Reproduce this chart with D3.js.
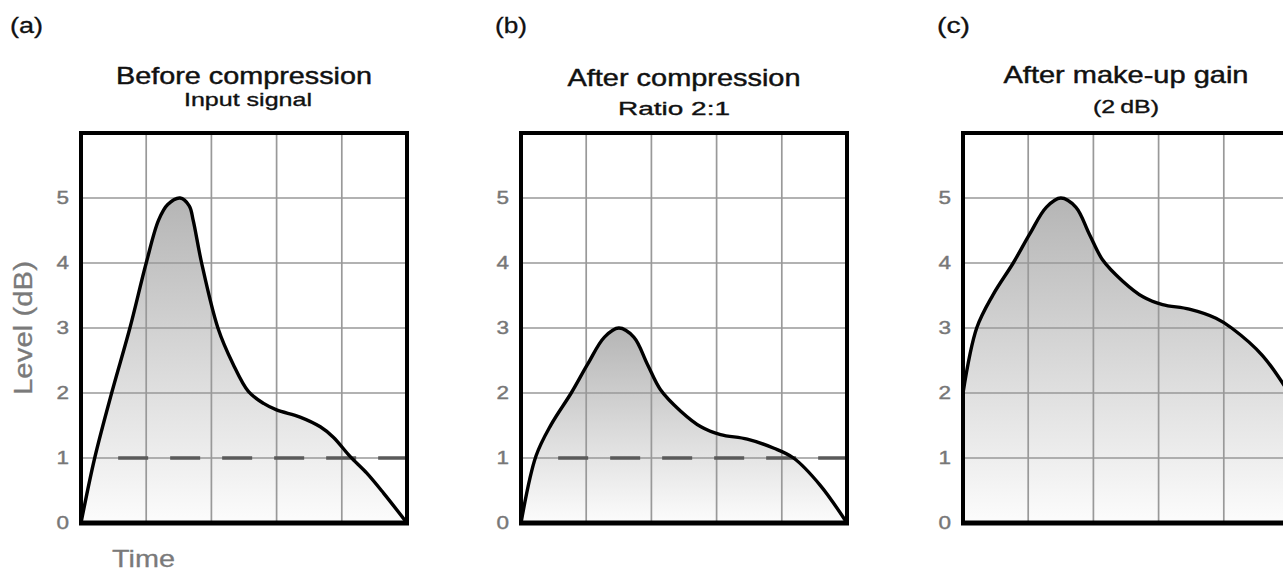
<!DOCTYPE html>
<html>
<head>
<meta charset="utf-8">
<script src="https://cdn.jsdelivr.net/npm/d3@7"></script>
<style>
  html, body { margin: 0; padding: 0; background: #ffffff; }
  svg { display: block; }
  text { font-family: "Liberation Sans", Arial, Helvetica, sans-serif; }
</style>
</head>
<body>
<svg id="chart" width="1283" height="572"></svg>
<script>
// ---------------- data ----------------
const panelLabels = ["(a)", "(b)", "(c)"];
const titles = ["Before compression", "After compression", "After make-up gain"];
const subtitles = ["Input signal", "Ratio 2:1", "(2\u2009dB)"];
const levelTicks = [0, 1, 2, 3, 4, 5];
const timeGrid = [1, 2, 3, 4];
const levelGrid = [1, 2, 3, 4, 5];
const thresholdLevel = 1;
const thresholdFrom = 0.57;

// (a) input signal
const timeA  = [0, 0.21, 0.47, 0.75, 1.0, 1.19, 1.33, 1.52, 1.66, 1.72, 1.85, 2.1, 2.33, 2.57, 2.8, 3.0, 3.36, 3.67, 3.87, 4.13, 4.38, 4.64, 5];
const levelA = [0, 1, 2, 3, 4, 4.66, 4.9, 5, 4.88, 4.66, 4, 3, 2.45, 2.02, 1.84, 1.74, 1.63, 1.48, 1.32, 1.02, 0.77, 0.46, 0];

// (b) after compression 2:1
const timeB  = [0, 0.23, 0.46, 0.77, 1.02, 1.28, 1.5, 1.73, 1.94, 2.14, 2.45, 2.76, 3.06, 3.47, 3.88, 4.18, 4.59, 5];
const levelB = [0, 1.03, 1.51, 2, 2.44, 2.86, 3, 2.86, 2.44, 2.05, 1.72, 1.48, 1.36, 1.29, 1.15, 1.0, 0.58, 0];

// (c) after 2 dB make-up gain
const timeC  = [0, 0.21, 0.46, 0.77, 1.02, 1.28, 1.5, 1.73, 1.94, 2.14, 2.45, 2.76, 3.06, 3.47, 3.88, 4.12, 4.59, 5];
const levelC = [2, 3.0, 3.51, 4, 4.44, 4.86, 5, 4.86, 4.44, 4.05, 3.72, 3.48, 3.36, 3.29, 3.15, 3.0, 2.58, 2];

// ---------------- layout ----------------
const panelLeft = [81, 521, 963];
const plotW = 326;
const plotTop = 133, plotBottom = 523;
const titleY = [84, 86, 83], subY = [106, 115, 113];
const titleLen = [256, 233, 245], subLen = [128, 112, 66];
const subDx = [4, -10, 0];
const labelX = [10, 495, 937];
const labelLen = [33, 32, 33];

const series = [
  { t: timeA, v: levelA, threshold: true },
  { t: timeB, v: levelB, threshold: true },
  { t: timeC, v: levelC, threshold: false }
];

const svg = d3.select("#chart");
const defs = svg.append("defs");
const grad = defs.append("linearGradient")
  .attr("id", "fillGrad").attr("x1", 0).attr("y1", 0).attr("x2", 0).attr("y2", 1);
grad.append("stop").attr("offset", "0%").attr("stop-color", "#b5b5b5");
grad.append("stop").attr("offset", "100%").attr("stop-color", "#fcfcfc");

const y = d3.scaleLinear().domain([0, 6]).range([plotBottom, plotTop]);
const curve = d3.curveCatmullRom.alpha(0.5);

series.forEach((s, i) => {
  const x = d3.scaleLinear().domain([0, 5]).range([panelLeft[i], panelLeft[i] + plotW]);
  const pts = s.t.map((t, k) => [t, s.v[k]]);
  const g = svg.append("g");

  // panel label
  g.append("text").attr("x", labelX[i]).attr("y", 33)
    .attr("font-size", 22).attr("fill", "#111").attr("stroke", "#111").attr("stroke-width", 0.3)
    .attr("textLength", labelLen[i]).attr("lengthAdjust", "spacingAndGlyphs")
    .text(panelLabels[i]);

  const cx = (x(0) + x(5)) / 2;
  g.append("text").attr("x", cx).attr("y", titleY[i]).attr("text-anchor", "middle")
    .attr("font-size", 24).attr("fill", "#111").attr("stroke", "#111").attr("stroke-width", 0.45)
    .attr("textLength", titleLen[i]).attr("lengthAdjust", "spacingAndGlyphs")
    .text(titles[i]);
  g.append("text").attr("x", cx + subDx[i]).attr("y", subY[i]).attr("text-anchor", "middle")
    .attr("font-size", 19).attr("fill", "#111").attr("stroke", "#111").attr("stroke-width", 0.35)
    .attr("textLength", subLen[i]).attr("lengthAdjust", "spacingAndGlyphs")
    .text(subtitles[i]);

  // area fill
  const area = d3.area().x(d => x(d[0])).y0(y(0)).y1(d => y(d[1])).curve(curve);
  g.append("path").datum(pts).attr("d", area).attr("fill", "url(#fillGrad)");

  // grid
  g.selectAll(".vg").data(timeGrid).join("line")
    .attr("x1", d => x(d)).attr("x2", d => x(d)).attr("y1", y(6)).attr("y2", y(0))
    .attr("stroke", "#999").attr("stroke-width", 1.7);
  g.selectAll(".hg").data(levelGrid).join("line")
    .attr("x1", x(0)).attr("x2", x(5)).attr("y1", d => y(d)).attr("y2", d => y(d))
    .attr("stroke", "#999").attr("stroke-width", 1.7);

  // threshold
  if (s.threshold) {
    g.append("line")
      .attr("x1", x(thresholdFrom)).attr("x2", x(5))
      .attr("y1", y(thresholdLevel)).attr("y2", y(thresholdLevel))
      .attr("stroke", "#5a5a5a").attr("stroke-width", 3.6)
      .attr("stroke-dasharray", "30,22");
  }

  // curve
  const line = d3.line().x(d => x(d[0])).y(d => y(d[1])).curve(curve);
  g.append("path").datum(pts).attr("d", line)
    .attr("fill", "none").attr("stroke", "#000").attr("stroke-width", 3.4)
    .attr("stroke-linejoin", "round").attr("stroke-linecap", "round");

  // frame
  g.append("rect").attr("x", x(0)).attr("y", y(6)).attr("width", x(5) - x(0)).attr("height", y(0) - y(6))
    .attr("fill", "none").attr("stroke", "#000").attr("stroke-width", 4);
  g.append("line").attr("x1", x(0) - 2).attr("x2", x(5) + 2).attr("y1", y(0)).attr("y2", y(0))
    .attr("stroke", "#000").attr("stroke-width", 5);

  // level tick labels
  const axis = d3.axisLeft(y).tickValues(levelTicks).tickSize(0).tickPadding(12).tickFormat(d3.format("d"));
  const ag = g.append("g").attr("transform", `translate(${x(0)},0)`).call(axis);
  ag.select(".domain").remove();
  ag.selectAll("text")
    .attr("font-size", 18).attr("fill", "#777").attr("stroke", "#777").attr("stroke-width", 0.4)
    .attr("font-family", "'Liberation Sans', Arial, sans-serif")
    .attr("x", -12 / 1.25).attr("transform", "scale(1.25,1)");

  if (i === 0) {
    g.append("text")
      .attr("transform", `translate(32,${(plotTop + plotBottom) / 2}) rotate(-90)`)
      .attr("text-anchor", "middle").attr("font-size", 25).attr("fill", "#7a7a7a")
      .attr("stroke", "#7a7a7a").attr("stroke-width", 0.3)
      .attr("textLength", 134).attr("lengthAdjust", "spacingAndGlyphs")
      .text("Level (dB)");
    g.append("text").attr("x", 112).attr("y", 567)
      .attr("font-size", 24).attr("fill", "#7a7a7a").attr("stroke", "#7a7a7a").attr("stroke-width", 0.3)
      .attr("textLength", 63).attr("lengthAdjust", "spacingAndGlyphs")
      .text("Time");
  }
});
</script>
</body>
</html>
